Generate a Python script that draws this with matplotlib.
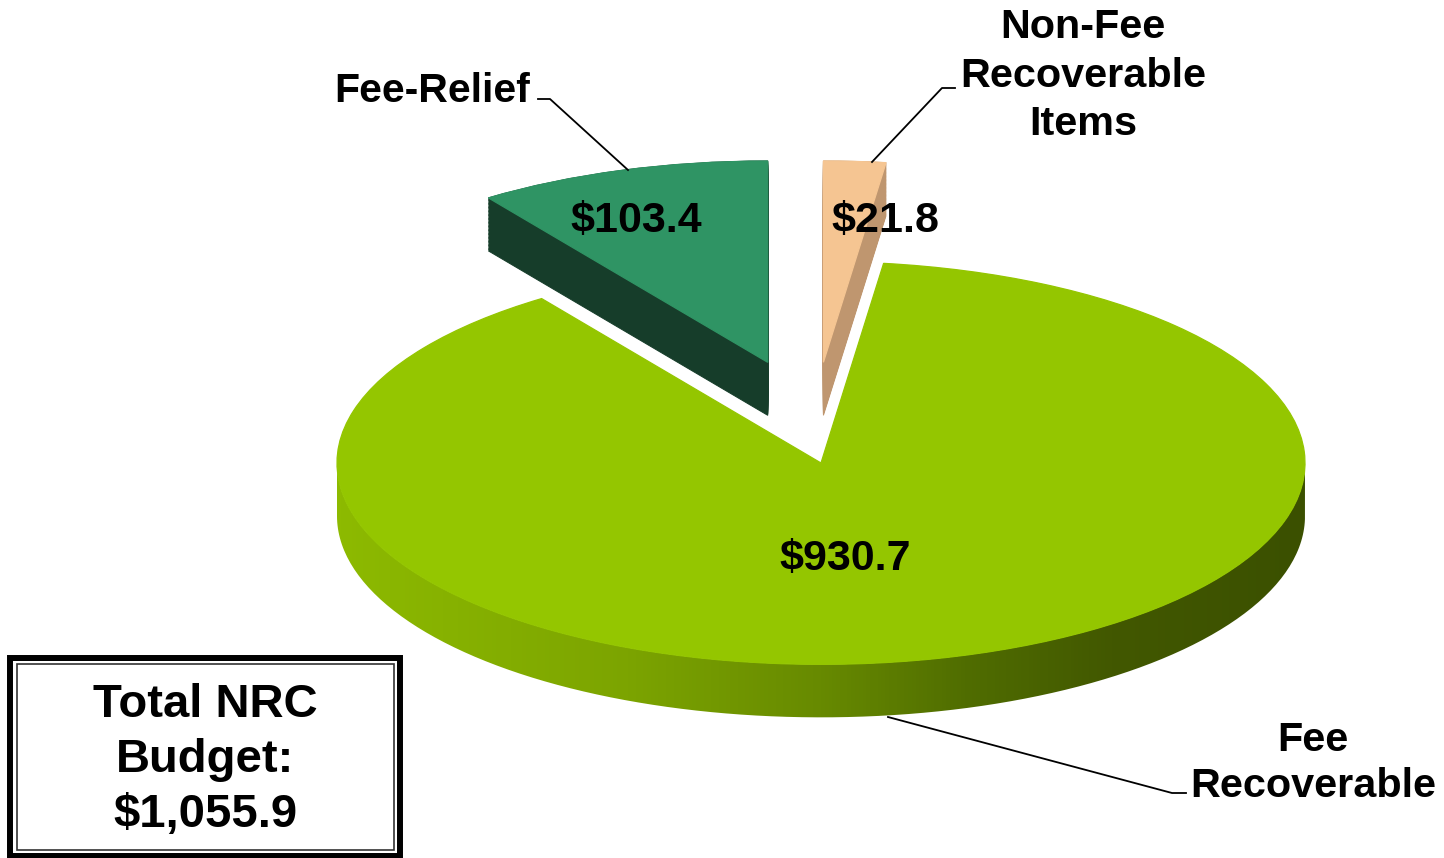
import numpy as np
import matplotlib.pyplot as plt
from matplotlib.patches import PathPatch, Rectangle
from matplotlib.path import Path
from matplotlib.transforms import Affine2D
from matplotlib.colors import LinearSegmentedColormap

plt.rcParams['font.family'] = ['Liberation Sans', 'DejaVu Sans']

# chart data (clockwise from 12 o'clock)
names = ['Non-Fee\nRecoverable\nItems', 'Fee\nRecoverable', 'Fee-Relief']
values = [21.8, 930.7, 103.4]
total_text = 'Total NRC\nBudget:\n$1,055.9'

# how far each slice is pulled out (unit-disc coordinates)
pull = [(0.005, 0.50), (0.0, 0.0), (-0.11, 0.50)]
top_colors = ['#F5C592', '#94C600', '#2F9464']
side_colors = ['#BF966F', '#6B8F00', '#163D2A']
wall_cmap = LinearSegmentedColormap.from_list(
    'wall', [(0, '#8DBA00'), (0.3, '#7CA400'), (0.5, '#678A00'),
             (0.65, '#506D00'), (0.8, '#425800'), (1, '#3B5000')])

W, H = 1444, 858
CX, CY = 821, 463      # centre of the disc top, pixels from the top
RX = 484               # horizontal radius in pixels
SQ = 0.416             # vertical squash of the tilted disc
THICK = 53             # disc thickness in pixels

fig = plt.figure(figsize=(W / 100, H / 100), dpi=100)
ax = fig.add_axes([0, 0, 1, 1])

# unit pie -> squashed ellipse in pixel coordinates
disc = Affine2D().scale(RX, RX * SQ).translate(CX, H - CY) + ax.transData
dz = THICK / (RX * SQ)


def draw_pie(shift, colors, z, lw=0.7):
    wedges, _ = ax.pie(values, colors=colors, startangle=90,
                       counterclock=False, radius=1, labeldistance=None,
                       wedgeprops=dict(linewidth=lw))
    for w, (ox, oy) in zip(wedges, pull):
        w.set_center((ox, oy - shift))
        w.set_transform(disc)
        w.set_edgecolor(w.get_facecolor())
        w.set_zorder(z)
    return wedges


# side walls of the pulled-out slices: stack of shifted copies
for shift in np.linspace(dz, 0, 40):
    layer = draw_pie(shift, side_colors, 1)
    layer[1].set_visible(False)

tops = draw_pie(0, top_colors, 2, lw=0.9)
tops[1].set_zorder(4)

# front wall of the big slice with a left-to-right shading
t = np.linspace(np.pi, 2 * np.pi, 200)
upper = np.column_stack([np.cos(t), np.sin(t)])
lower = np.column_stack([np.cos(t[::-1]), np.sin(t[::-1]) - dz])
wall = PathPatch(Path(np.vstack([upper, lower])), transform=disc,
                 facecolor='none', edgecolor='none')
ax.add_patch(wall)
grad = np.linspace(0, 1, 256)[None, :]
img = ax.imshow(grad, cmap=wall_cmap, aspect='auto', zorder=3,
                extent=(CX - RX, CX + RX, H - CY - RX * SQ - THICK - 5, H - CY))
img.set_clip_path(wall)

# value labels
value_pos = [(885, 232), (845, 570), (636, 232)]
for v, (x, y) in zip(values, value_pos):
    ax.text(x, H - y, f'${v:,.1f}', ha='center', va='baseline',
            fontsize=31, fontweight='bold', zorder=6)


def stacked_text(x, baselines, text, size):
    for line, y in zip(text.split('\n'), baselines):
        ax.text(x, H - y, line, ha='center', va='baseline',
                fontsize=size, fontweight='bold', zorder=6)


# category labels with leader lines
stacked_text(1083, [38, 87, 135], names[0], 29.8)
stacked_text(1313, [751, 797], names[1], 29.8)
stacked_text(432, [102], names[2], 29.5)

leaders = [([955, 942, 872], [88, 88, 162]),
           ([888, 1172, 1186], [717, 793, 793]),
           ([538, 550, 628], [99, 99, 170])]
for xs, ys in leaders:
    ax.plot(xs, [H - y for y in ys], color='black', lw=1.3, zorder=5)

# total box with double border
ax.add_patch(Rectangle((10, H - 856), 390, 198, fill=False, lw=4.3,
                       ec='black', zorder=5))
ax.add_patch(Rectangle((17, H - 850), 377, 186, fill=False, lw=1.2,
                       ec='#333333', zorder=5))
stacked_text(205, [717, 772, 827], total_text, 34)

ax.set_xlim(0, W)
ax.set_ylim(0, H)
ax.set_aspect('auto')
ax.axis('off')

fig.savefig('out.png', dpi=100, facecolor='white')
